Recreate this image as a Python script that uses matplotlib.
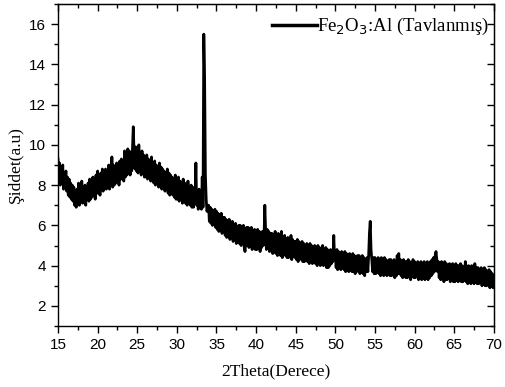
import numpy as np
import matplotlib.pyplot as plt
from matplotlib.ticker import MultipleLocator

# XRD pattern, 0.1 degree step from 15 to 70
two_theta_start = 15.0
two_theta_step = 0.1
intensity = [
    9.3, 8.3, 9.1, 8.0, 8.9, 8.2, 9.0, 7.8, 8.6, 8.1,
    8.7, 7.7, 8.4, 7.5, 8.3, 7.4, 8.1, 7.3, 8.0, 7.2,
    7.9, 7.0, 7.7, 6.9, 7.8, 7.1, 8.1, 7.0, 7.6, 7.2,
    8.2, 7.1, 7.8, 7.2, 8.0, 7.0, 7.9, 7.3, 8.1, 7.2,
    8.3, 7.3, 8.0, 7.4, 8.4, 7.5, 8.1, 7.3, 8.5, 7.6,
    8.7, 7.6, 8.3, 7.5, 8.6, 7.8, 8.8, 7.7, 8.4, 7.9,
    8.8, 7.8, 8.6, 7.9, 9.0, 7.8, 8.5, 8.0, 9.4, 7.9,
    9.0, 8.0, 8.8, 8.1, 9.1, 8.2, 8.9, 8.0, 9.2, 8.3,
    9.3, 8.3, 9.1, 8.2, 9.7, 8.4, 9.4, 8.5, 9.8, 8.6,
    9.7, 8.5, 9.5, 8.7, 9.8, 10.9, 9.6, 8.8, 9.9, 8.7,
    9.8, 8.6, 10.0, 8.7, 9.6, 8.5, 9.7, 8.6, 9.5, 8.4,
    9.4, 8.4, 9.5, 8.3, 9.3, 8.5, 9.2, 8.2, 9.4, 8.3,
    9.1, 8.1, 9.2, 8.0, 9.0, 8.2, 8.9, 7.9, 9.1, 8.0,
    8.9, 7.8, 8.8, 7.9, 8.7, 7.7, 8.6, 7.8, 8.8, 7.6,
    8.6, 7.5, 8.5, 7.6, 8.4, 7.5, 8.3, 7.4, 8.5, 7.3,
    8.3, 7.3, 8.4, 7.2, 8.2, 7.4, 8.1, 7.1, 8.3, 7.2,
    8.1, 7.1, 8.0, 7.0, 8.2, 7.2, 7.9, 7.0, 8.0, 6.9,
    7.9, 6.9, 7.8, 7.1, 9.1, 7.0, 7.7, 6.8, 7.8, 6.9,
    7.6, 6.8, 8.4, 6.9, 15.5, 13.3, 8.5, 7.3, 6.7, 6.9,
    7.0, 6.2, 6.9, 6.1, 6.8, 6.0, 6.7, 6.1, 6.8, 5.9,
    6.7, 5.8, 6.6, 5.7, 6.5, 5.9, 6.6, 5.6, 6.4, 5.7,
    6.4, 5.5, 6.3, 5.4, 6.2, 5.6, 6.3, 5.3, 6.1, 5.4,
    6.2, 5.2, 6.0, 5.3, 6.1, 5.1, 5.9, 5.2, 6.0, 5.1,
    6.0, 5.0, 5.9, 5.1, 6.0, 4.9, 4.7, 5.2, 5.9, 5.0,
    5.9, 4.9, 5.8, 5.0, 5.9, 4.8, 5.7, 4.9, 5.8, 4.8,
    5.7, 4.8, 5.8, 4.9, 5.7, 4.7, 5.6, 4.9, 5.7, 5.0,
    5.4, 7.0, 5.7, 4.8, 5.8, 4.9, 5.7, 4.7, 5.6, 4.8,
    5.6, 4.6, 5.5, 4.7, 5.7, 4.6, 5.5, 4.5, 5.6, 4.6,
    5.4, 4.5, 5.7, 4.4, 5.4, 4.6, 5.5, 4.5, 5.3, 4.4,
    5.4, 4.4, 5.3, 4.5, 5.5, 4.3, 5.3, 4.5, 5.2, 4.4,
    5.2, 4.3, 5.3, 4.2, 5.2, 4.4, 5.1, 4.3, 5.2, 4.2,
    5.1, 4.2, 5.0, 4.3, 5.1, 4.2, 5.0, 4.1, 5.1, 4.2,
    5.0, 4.1, 4.9, 4.2, 5.0, 4.1, 4.9, 4.0, 5.0, 4.1,
    4.9, 4.0, 4.8, 4.1, 5.0, 4.0, 4.8, 4.1, 4.9, 3.9,
    4.8, 3.9, 4.7, 4.0, 4.8, 4.1, 4.7, 4.2, 5.5, 4.3,
    4.7, 3.9, 4.8, 3.8, 4.7, 3.9, 4.6, 3.8, 4.7, 3.9,
    4.6, 3.8, 4.7, 3.7, 4.6, 3.8, 4.5, 3.7, 4.6, 3.8,
    4.5, 3.7, 4.6, 3.7, 4.5, 3.6, 4.4, 3.8, 4.5, 3.7,
    4.5, 3.6, 4.4, 3.7, 4.5, 3.6, 4.4, 3.5, 4.3, 3.7,
    4.4, 3.7, 4.5, 5.6, 6.2, 4.8, 4.3, 3.7, 4.4, 3.6,
    4.4, 3.6, 4.3, 3.7, 4.4, 3.6, 4.3, 3.5, 4.4, 3.6,
    4.3, 3.5, 4.4, 3.6, 4.3, 3.5, 4.2, 3.6, 4.3, 3.5,
    4.3, 3.5, 4.2, 3.6, 4.3, 3.4, 4.2, 3.5, 4.5, 3.6,
    4.6, 3.6, 4.3, 3.5, 4.2, 3.4, 4.3, 3.5, 4.2, 3.4,
    4.2, 3.4, 4.3, 3.5, 4.2, 3.3, 4.1, 3.5, 4.3, 3.4,
    4.2, 3.4, 4.1, 3.5, 4.2, 3.3, 4.1, 3.4, 4.2, 3.3,
    4.1, 3.4, 4.2, 3.3, 4.1, 3.4, 4.2, 3.3, 4.1, 3.4,
    4.2, 3.5, 4.3, 3.6, 4.4, 3.7, 4.5, 4.7, 4.3, 3.7,
    4.2, 3.4, 4.1, 3.3, 4.2, 3.4, 4.1, 3.2, 4.2, 3.3,
    4.1, 3.3, 4.0, 3.4, 4.1, 3.2, 4.0, 3.3, 4.1, 3.2,
    4.0, 3.2, 4.1, 3.3, 4.0, 3.2, 4.0, 3.3, 4.1, 3.2,
    4.0, 3.2, 3.9, 3.3, 4.2, 3.2, 3.9, 3.1, 4.0, 3.2,
    3.9, 3.1, 4.0, 3.2, 3.9, 3.1, 4.1, 3.2, 3.9, 3.1,
    3.9, 3.1, 3.8, 3.2, 3.9, 3.0, 3.8, 3.1, 3.9, 3.0,
    3.8, 3.0, 3.7, 3.1, 3.8, 2.9, 3.7, 3.0, 3.6, 2.9,
    3.4,
]
two_theta = two_theta_start + two_theta_step * np.arange(len(intensity))

x_ticks = [15, 20, 25, 30, 35, 40, 45, 50, 55, 60, 65, 70]
y_ticks = [2, 4, 6, 8, 10, 12, 14, 16]

fig = plt.figure(figsize=(5.06, 3.87), dpi=100)
ax = fig.add_axes([0.1146, 0.1576, 0.8614, 0.8321])

ax.plot(two_theta, intensity, color='black', linewidth=2.0,
        label=r'Fe$_2$O$_3$:Al (Tavlanmış)')

ax.set_xlim(15, 70)
ax.set_ylim(1, 17)
ax.set_xticks(x_ticks)
ax.set_yticks(y_ticks)
ax.xaxis.set_minor_locator(MultipleLocator(2.5))
ax.yaxis.set_minor_locator(MultipleLocator(1))

for lab in ax.get_xticklabels() + ax.get_yticklabels():
    lab.set_family('Liberation Sans')
    lab.set_fontsize(11)

ax.tick_params(which='both', direction='out', top=False, right=False, width=1)
ax.tick_params(which='major', length=5)
ax.tick_params(which='minor', length=3)

# secondary ticks pointing inward on top and right
ax_top = ax.secondary_xaxis('top')
ax_top.set_xticks(x_ticks)
ax_top.xaxis.set_minor_locator(MultipleLocator(2.5))
ax_top.tick_params(which='both', direction='in', labeltop=False, width=1)
ax_top.tick_params(which='major', length=5)
ax_top.tick_params(which='minor', length=3)
ax_right = ax.secondary_yaxis('right')
ax_right.set_yticks(y_ticks)
ax_right.yaxis.set_minor_locator(MultipleLocator(1))
ax_right.tick_params(which='both', direction='in', labelright=False, width=1)
ax_right.tick_params(which='major', length=5)
ax_right.tick_params(which='minor', length=3)

for sp in ax.spines.values():
    sp.set_linewidth(1)

ax.set_xlabel('2Theta(Derece)', family='Liberation Serif', fontsize=12.5, labelpad=8)
ax.set_ylabel('Şiddet(a.u)', family='Liberation Serif', fontsize=12.5, labelpad=4)

leg = ax.legend(loc='upper right', bbox_to_anchor=(1.005, 0.985), frameon=False,
                handlelength=2.4, handletextpad=0.0, borderaxespad=0.0,
                prop={'family': 'Liberation Serif', 'size': 13.5})
for h in leg.get_lines():
    h.set_linewidth(2.5)

fig.savefig('out.png', dpi=100)
